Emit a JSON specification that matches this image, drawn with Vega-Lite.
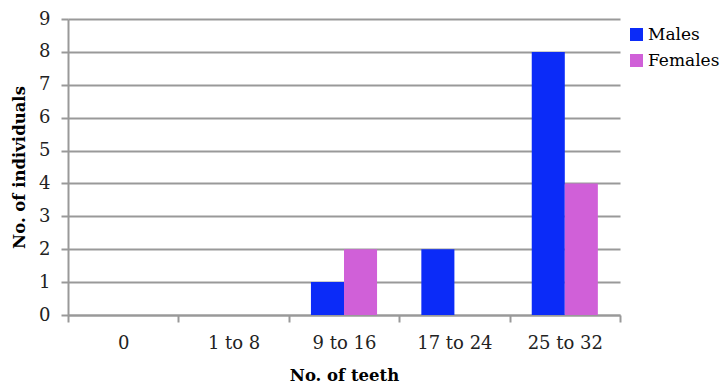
{
  "$schema": "https://vega.github.io/schema/vega-lite/v6.json",
  "autosize": {"type": "none"},
  "padding": {"left": 68, "top": 19, "right": 101, "bottom": 70},
  "width": 552,
  "height": 296,
  "background": "white",
  "config": {
    "font": "DejaVu Serif",
    "view": {"stroke": null},
    "axis": {"labelFont": "DejaVu Serif", "titleFont": "DejaVu Serif"},
    "legend": {"labelFont": "DejaVu Serif"}
  },
  "data": {
    "values": [
      {"teeth": "0", "sex": "Males", "count": 0},
      {"teeth": "0", "sex": "Females", "count": 0},
      {"teeth": "1 to 8", "sex": "Males", "count": 0},
      {"teeth": "1 to 8", "sex": "Females", "count": 0},
      {"teeth": "9 to 16", "sex": "Males", "count": 1},
      {"teeth": "9 to 16", "sex": "Females", "count": 2},
      {"teeth": "17 to 24", "sex": "Males", "count": 2},
      {"teeth": "17 to 24", "sex": "Females", "count": 0},
      {"teeth": "25 to 32", "sex": "Males", "count": 8},
      {"teeth": "25 to 32", "sex": "Females", "count": 4}
    ]
  },
  "mark": {"type": "bar"},
  "encoding": {
    "x": {
      "field": "teeth",
      "type": "nominal",
      "sort": ["0", "1 to 8", "9 to 16", "17 to 24", "25 to 32"],
      "scale": {"paddingInner": 0, "paddingOuter": 0},
      "axis": {
        "title": "No. of teeth",
        "titleFontSize": 16.5,
        "titleFontWeight": "bold",
        "titleColor": "#000",
        "titlePadding": 15,
        "labelAngle": 0,
        "labelFontSize": 18,
        "labelColor": "#222",
        "labelPadding": 12,
        "tickBand": "extent",
        "tickSize": 7,
        "tickColor": "#999",
        "domainColor": "#999",
        "domainWidth": 2,
        "tickWidth": 2,
        "grid": false
      }
    },
    "xOffset": {
      "field": "sex",
      "type": "nominal",
      "sort": ["Males", "Females"],
      "scale": {"paddingOuter": 0.67, "paddingInner": 0}
    },
    "y": {
      "field": "count",
      "type": "quantitative",
      "scale": {"domain": [0, 9], "nice": false},
      "axis": {
        "title": "No. of individuals",
        "titleFontSize": 16.5,
        "titleFontWeight": "bold",
        "titleColor": "#000",
        "titlePadding": 11,
        "values": [0, 1, 2, 3, 4, 5, 6, 7, 8, 9],
        "labelFontSize": 18,
        "labelColor": "#222",
        "labelPadding": 11,
        "tickSize": 7,
        "tickColor": "#999",
        "tickWidth": 2,
        "domainColor": "#999",
        "domainWidth": 2,
        "grid": true,
        "gridColor": "#999",
        "gridWidth": 2
      }
    },
    "color": {
      "field": "sex",
      "type": "nominal",
      "sort": ["Males", "Females"],
      "scale": {"domain": ["Males", "Females"], "range": ["#0B2BF8", "#D060D8"]},
      "legend": {
        "title": null,
        "orient": "none",
        "legendX": 560,
        "legendY": 7,
        "symbolType": "square",
        "symbolSize": 170,
        "symbolStrokeWidth": 0,
        "labelFontSize": 17,
        "labelColor": "#000",
        "labelOffset": 3,
        "rowPadding": 8
      }
    }
  }
}
